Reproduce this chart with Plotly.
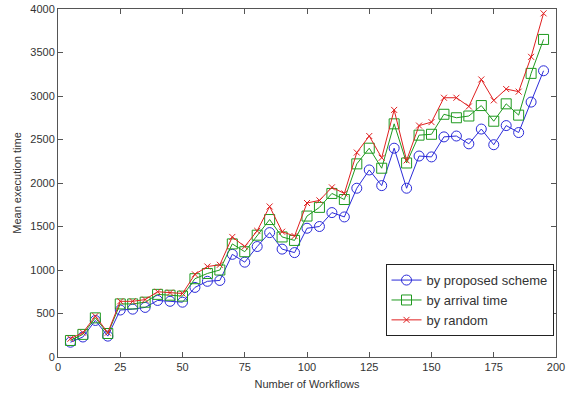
import plotly.graph_objects as go

workflows = list(range(5, 200, 5))
proposed = [170, 230, 420, 240, 540, 550, 570, 650, 640, 630, 800, 870, 880, 1180, 1090,
            1270, 1430, 1240, 1200, 1480, 1500, 1660, 1610, 1940, 2150, 1970, 2400, 1940,
            2310, 2300, 2530, 2540, 2450, 2620, 2440, 2660, 2580, 2930, 3290]
arrival = [190, 260, 450, 270, 610, 610, 630, 720, 710, 700, 900, 960, 1000, 1300, 1210,
           1400, 1580, 1380, 1340, 1620, 1720, 1880, 1810, 2220, 2400, 2170, 2680, 2230,
           2550, 2560, 2790, 2750, 2770, 2890, 2710, 2910, 2780, 3260, 3650]
random_ = [210, 280, 470, 280, 640, 640, 660, 750, 740, 730, 950, 1040, 1060, 1380, 1270,
           1450, 1730, 1440, 1390, 1770, 1800, 1950, 1880, 2350, 2540, 2290, 2840, 2260,
           2660, 2700, 2980, 2980, 2880, 3190, 2950, 3080, 3050, 3450, 3950]

fig = go.Figure()
fig.add_trace(go.Scatter(x=workflows, y=proposed, name="by proposed scheme", mode="lines+markers",
                         line=dict(color="#2b2bd9", width=1),
                         marker=dict(symbol="circle-open", size=10, color="#2b2bd9", line=dict(width=1))))
fig.add_trace(go.Scatter(x=workflows, y=arrival, name="by arrival time", mode="lines+markers",
                         line=dict(color="#1f9a1f", width=1),
                         marker=dict(symbol="square-open", size=10, color="#1f9a1f", line=dict(width=1))))
fig.add_trace(go.Scatter(x=workflows, y=random_, name="by random", mode="lines+markers",
                         line=dict(color="#e02020", width=1),
                         marker=dict(symbol="x-thin-open", size=6, color="#e02020", line=dict(width=1))))

axis_common = dict(showgrid=False, zeroline=False, showline=True, linecolor="#555555", linewidth=1,
                   mirror="ticks", ticks="inside", ticklen=5, tickcolor="#555555", automargin=False,
                   tickfont=dict(size=11, color="#333333", family="Liberation Sans"))
fig.update_xaxes(range=[0, 200], tickvals=[0, 25, 50, 75, 100, 125, 150, 175, 200],
                 title=dict(text="Number of Workflows", font=dict(size=11, color="#333333", family="Liberation Sans"), standoff=8),
                 **axis_common)
fig.update_yaxes(range=[0, 4000], tickvals=list(range(0, 4001, 500)),
                 title=dict(text="Mean execution time", font=dict(size=11, color="#333333", family="Liberation Sans"), standoff=6),
                 **axis_common)
fig.update_layout(
    width=566, height=402,
    margin=dict(l=58, r=10, t=9, b=45),
    paper_bgcolor="white", plot_bgcolor="white",
    font=dict(family="Liberation Sans", size=11, color="#333333"),
    legend=dict(x=0.995, xanchor="right", y=0.06, yanchor="bottom",
                bgcolor="white", bordercolor="#222222", borderwidth=1,
                font=dict(size=13, color="#333333"), tracegroupgap=0, itemwidth=30),
)
fig.write_html("out.html")
